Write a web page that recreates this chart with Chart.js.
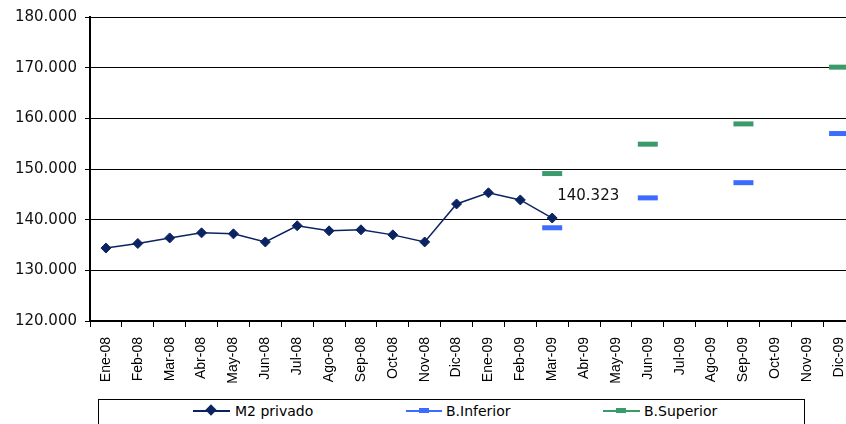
<!DOCTYPE html>
<html>
<head>
<meta charset="utf-8">
<script src="https://cdn.jsdelivr.net/npm/chart.js@4"></script>
<style>
  html, body { margin: 0; padding: 0; background: #fff; overflow: hidden; }
  #wrap { position: relative; width: 846px; height: 424px; overflow: hidden; }
  #lineChart { position: absolute; left: 0; top: 0; }
  #legend {
    position: absolute; left: 98px; top: 399px; width: 705px; height: 40px;
    border: 1px solid #000; background: #fff;
    font-family: "DejaVu Sans", sans-serif; font-size: 14px; color: #000;
  }
  .item { position: absolute; top: 3px; height: 16px; line-height: 16px; }
  .sample { position: absolute; top: 7px; height: 2px; }
  .mark { position: absolute; }
  .label { position: absolute; left: 42px; top: 0; white-space: nowrap; }
</style>
</head>
<body>
<div id="wrap">
  <canvas id="lineChart" width="870" height="424"></canvas>
  <div id="legend">
    <div class="item" style="left:94px">
      <div class="sample" style="left:0;width:37px;background:#0b2461"></div>
      <div class="mark" style="left:14px;top:3px;width:8px;height:8px;background:#0b2461;transform:rotate(45deg)"></div>
      <span class="label">M2 privado</span>
    </div>
    <div class="item" style="left:307px">
      <div class="sample" style="left:0;width:36px;background:#3d6bff"></div>
      <div class="mark" style="left:13px;top:5px;width:10px;height:5px;background:#3d6bff"></div>
      <span class="label" style="left:40px">B.Inferior</span>
    </div>
    <div class="item" style="left:504px">
      <div class="sample" style="left:0;width:37px;background:#3a9a6a"></div>
      <div class="mark" style="left:13px;top:5px;width:10px;height:5px;background:#3a9a6a"></div>
      <span class="label" style="left:41px">B.Superior</span>
    </div>
  </div>
</div>
<script>
// Categories and series values
const months = ['Ene-08', 'Feb-08', 'Mar-08', 'Abr-08', 'May-08', 'Jun-08', 'Jul-08', 'Ago-08',
    'Sep-08', 'Oct-08', 'Nov-08', 'Dic-08', 'Ene-09', 'Feb-09', 'Mar-09', 'Abr-09',
    'May-09', 'Jun-09', 'Jul-09', 'Ago-09', 'Sep-09', 'Oct-09', 'Nov-09', 'Dic-09'];

const m2Privado = [134400, 135300, 136400, 137400, 137200, 135600, 138800, 137800,
    138000, 137000, 135600, 143100, 145300, 143900, 140323, null,
    null, null, null, null, null, null, null, null];

const bInferior = [null, null, null, null, null, null, null, null,
    null, null, null, null, null, null, 138400, null,
    null, 144300, null, null, 147300, null, null, 157000];

const bSuperior = [null, null, null, null, null, null, null, null,
    null, null, null, null, null, null, 149100, null,
    null, 154900, null, null, 158900, null, null, 170100];

const yTicks = [120000, 130000, 140000, 150000, 160000, 170000, 180000];

const lastLabelIndex = 14;

function formatThousands(v) {
    return (v / 1000).toFixed(3);
}

// Draws the value label next to the last M2 point
const lastValueLabel = {
    id: 'lastValueLabel',
    afterDatasetsDraw(chart) {
        const meta = chart.getDatasetMeta(0);
        const pt = meta.data[lastLabelIndex];
        if (!pt) return;
        const ctx = chart.ctx;
        ctx.save();
        ctx.font = '15px "DejaVu Sans", sans-serif';
        ctx.fillStyle = '#111';
        ctx.textAlign = 'left';
        ctx.textBaseline = 'middle';
        ctx.fillText(formatThousands(m2Privado[lastLabelIndex]), pt.x + 5, pt.y - 22);
        ctx.restore();
    }
};

const ctx = document.getElementById('lineChart').getContext('2d');

new Chart(ctx, {
    type: 'line',
    data: {
        labels: months,
        datasets: [{
            label: 'M2 privado',
            data: m2Privado,
            borderColor: '#0b2461',
            backgroundColor: '#0b2461',
            borderWidth: 1.5,
            pointStyle: 'rectRot',
            pointRadius: 5,
            pointBorderWidth: 1,
            tension: 0,
            spanGaps: false
        }, {
            label: 'B.Inferior',
            data: bInferior,
            showLine: false,
            borderColor: '#3d6bff',
            backgroundColor: '#3d6bff',
            pointStyle: 'line',
            pointRadius: 10,
            pointBorderWidth: 5
        }, {
            label: 'B.Superior',
            data: bSuperior,
            showLine: false,
            borderColor: '#3a9a6a',
            backgroundColor: '#3a9a6a',
            pointStyle: 'line',
            pointRadius: 10,
            pointBorderWidth: 5
        }]
    },
    options: {
        responsive: false,
        animation: false,
        layout: { padding: { top: 16, right: 2, bottom: 0, left: 0 } },
        scales: {
            x: {
                offset: true,
                grid: {
                    display: true,
                    offset: true,
                    drawOnChartArea: false,
                    drawTicks: true,
                    tickLength: 6,
                    color: '#000'
                },
                border: { display: true, color: '#000', width: 2 },
                ticks: {
                    autoSkip: false,
                    maxRotation: 90,
                    minRotation: 90,
                    padding: 10,
                    color: '#000',
                    font: { family: '"Liberation Sans", Arial, sans-serif', size: 14 }
                },
                afterFit(scale) { scale.height = 103; }
            },
            y: {
                min: 120000,
                max: 180000,
                afterBuildTicks(scale) {
                    scale.ticks = yTicks.map(v => ({ value: v }));
                },
                grid: {
                    color: '#000',
                    lineWidth: 1,
                    tickLength: 5
                },
                border: { display: true, color: '#000', width: 2 },
                ticks: {
                    padding: 8,
                    color: '#111',
                    font: { family: '"DejaVu Sans", sans-serif', size: 15 },
                    callback: v => formatThousands(v)
                },
                afterFit(scale) { scale.width = 90; }
            }
        },
        plugins: {
            legend: { display: false },
            tooltip: { enabled: false }
        }
    },
    plugins: [lastValueLabel]
});
</script>
</body>
</html>
